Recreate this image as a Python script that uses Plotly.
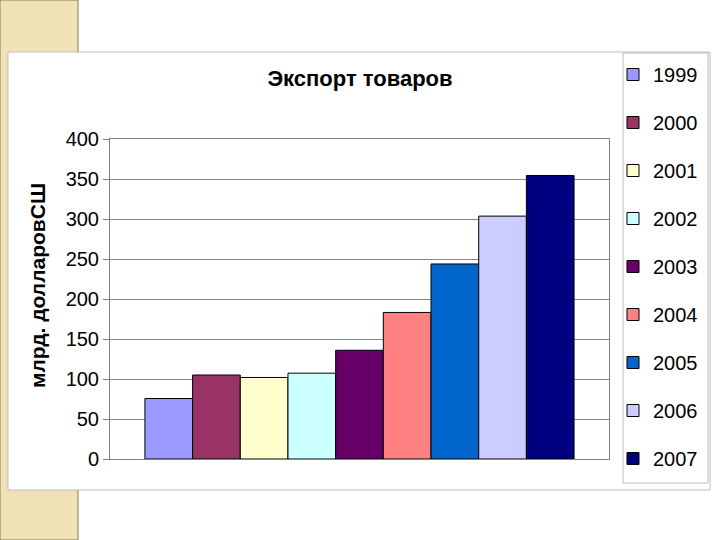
import plotly.graph_objects as go

years = ["1999", "2000", "2001", "2002", "2003", "2004", "2005", "2006", "2007"]
exports = [75.6, 105.0, 101.9, 107.3, 135.9, 183.2, 243.8, 303.6, 354.4]
colors = ["#9999FF", "#993366", "#FFFFCC", "#CCFFFF", "#660066",
          "#FF8080", "#0066CC", "#CCCCFF", "#000080"]
title_text = "Экспорт товаров"
y_title = "млрд. долларовСШ"
y_ticks = [0, 50, 100, 150, 200, 250, 300, 350, 400]

W, H = 720, 540
L, R, T, B = 110, 609, 139, 459  # plot area in pixels


def px(x):
    return (x - L) / (R - L)


def py(y):
    return 1 - (y - T) / (B - T)


FONT = "Liberation Sans, Arial, sans-serif"

fig = go.Figure()
for yr, val, col in zip(years, exports, colors):
    fig.add_trace(go.Bar(
        x=["Экспорт"], y=[val], name=yr, legendgroup=yr,
        marker=dict(color=col, line=dict(color="#000000", width=1)),
    ))

shapes = [
    # slide beige strip
    dict(type="rect", xref="paper", yref="paper", layer="below",
         x0=px(0), x1=px(78), y0=py(0), y1=py(540),
         fillcolor="#F0E2B6", line=dict(color="#8A7A50", width=1)),
    # chart area
    dict(type="rect", xref="paper", yref="paper", layer="below",
         x0=px(8), x1=px(710), y0=py(52), y1=py(490),
         fillcolor="#FFFFFF", line=dict(color="#BDBDBD", width=1)),
    # legend box
    dict(type="rect", xref="paper", yref="paper", layer="below",
         x0=px(623), x1=px(708), y0=py(53), y1=py(483),
         fillcolor="#FFFFFF", line=dict(color="#BDBDBD", width=1)),
]

annotations = [
    dict(text="<b>" + y_title + "</b>", xref="paper", yref="paper",
         x=px(37), y=py(286), xanchor="center", yanchor="middle",
         textangle=-90, showarrow=False,
         font=dict(size=21, family=FONT, color="#000000")),
]

fig.update_layout(
    width=W, height=H,
    margin=dict(l=L, r=W - R, t=T, b=H - B, pad=0),
    paper_bgcolor="#FFFFFF",
    plot_bgcolor="#C0C0C0",
    barmode="group",
    bargap=0.14,
    bargroupgap=0,
    font=dict(family=FONT, size=20, color="#000000"),
    title=dict(text="<b>" + title_text + "</b>", x=px(360), xref="paper",
               xanchor="center", y=1 - 78 / H, yanchor="middle",
               font=dict(size=22, family=FONT, color="#000000")),
    shapes=shapes,
    annotations=annotations,
    showlegend=True,
    legend=dict(
        x=px(613), y=py(55), xanchor="left", yanchor="top",
        bgcolor="rgba(0,0,0,0)", borderwidth=0,
        font=dict(size=20, family=FONT, color="#000000"),
        traceorder="grouped", tracegroupgap=19,
        itemwidth=30, maxheight=1,
    ),
    xaxis=dict(showticklabels=False, showgrid=False, ticks="",
               showline=True, linecolor="#808080", linewidth=1,
               mirror=True, fixedrange=True),
    yaxis=dict(range=[0, 400], tickvals=y_ticks, showgrid=True,
               gridcolor="#858585", gridwidth=1, zeroline=False,
               showline=True, linecolor="#808080", linewidth=1, mirror=True,
               ticks="outside", ticklen=6, tickcolor="#808080",
               tickfont=dict(size=20, family=FONT)),
)

fig.write_html("out.html", config={"displayModeBar": False},
               post_script="document.body.style.margin='0';"
                           "document.body.style.overflow='hidden';")
